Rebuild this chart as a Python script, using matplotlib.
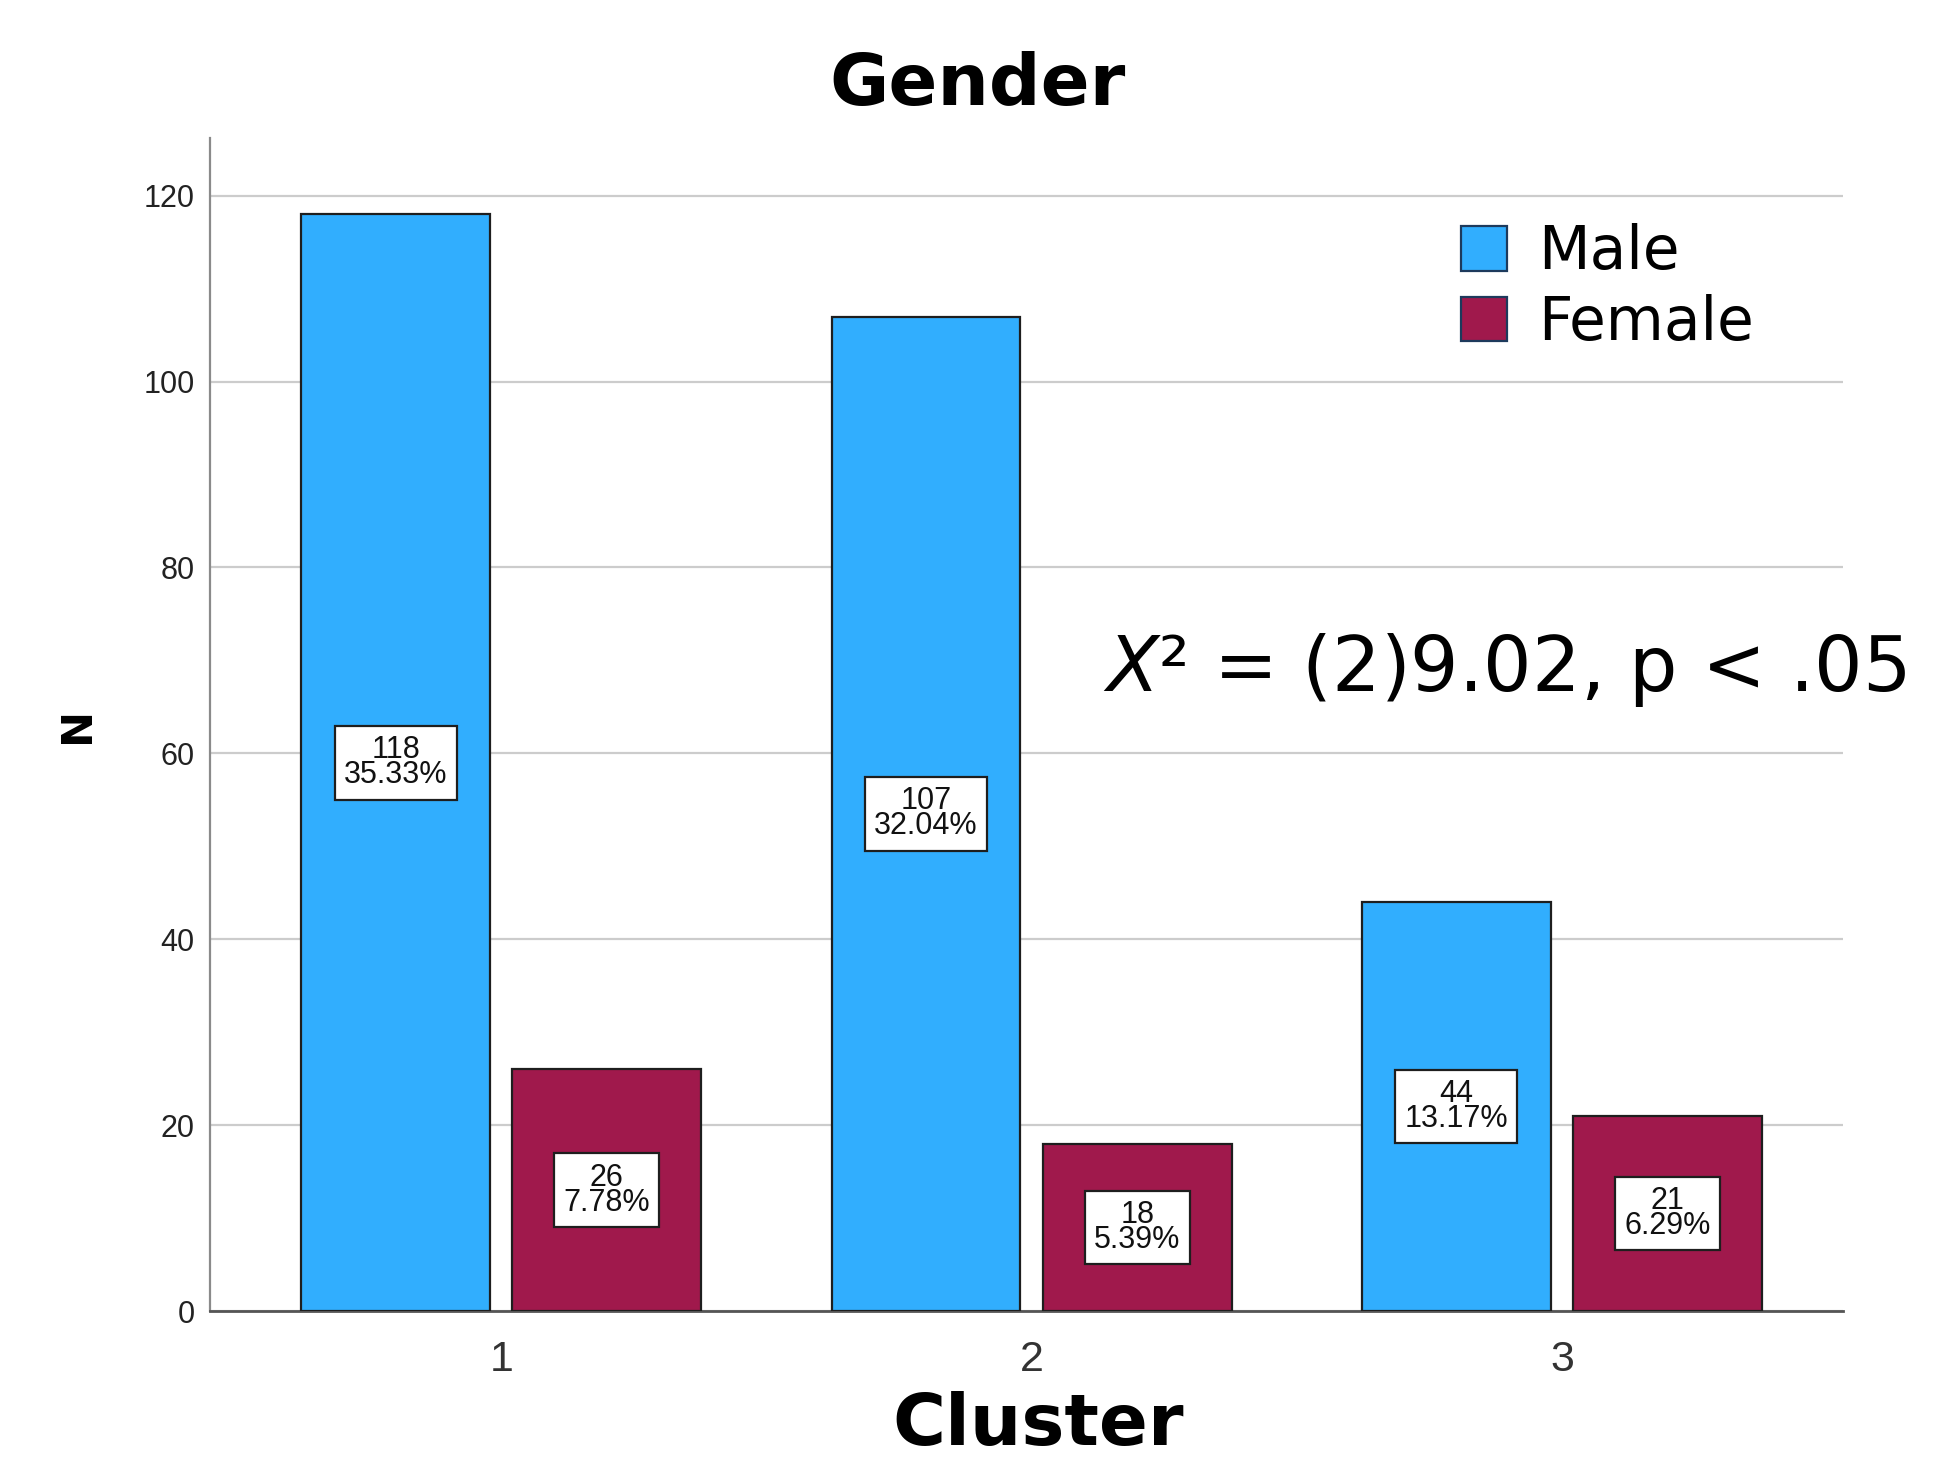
import numpy as np
import matplotlib
matplotlib.use("Agg")
import matplotlib.pyplot as plt
from matplotlib.patches import Patch

# Cluster x gender counts
clusters = ["1", "2", "3"]
male_n = [118, 107, 44]
female_n = [26, 18, 21]
series_names = ["Male", "Female"]
y_ticks = [0, 20, 40, 60, 80, 100, 120]

MALE_COLOR = "#31aefe"
FEMALE_COLOR = "#a0194c"
EDGE = "#1e1e1e"

total = sum(male_n) + sum(female_n)

fig = plt.figure(figsize=(19.36, 14.58), dpi=100)
ax = fig.add_axes([0.1085, 0.1008, 0.8435, 0.8045])

x = np.arange(1, len(clusters) + 1)
width = 0.356
offset = 0.199

bars_m = ax.bar(x - offset, male_n, width, color=MALE_COLOR,
                edgecolor=EDGE, linewidth=1.6, zorder=3)
bars_f = ax.bar(x + offset, female_n, width, color=FEMALE_COLOR,
                edgecolor=EDGE, linewidth=1.6, zorder=3)

# count / percent boxes at mid-height of each bar
for bars, vals in ((bars_m, male_n), (bars_f, female_n)):
    for b, v in zip(bars, vals):
        ax.text(b.get_x() + b.get_width() / 2, v / 2,
                "%d\n%.2f%%" % (v, 100.0 * v / total),
                ha="center", va="center", fontsize=22, linespacing=0.8,
                family="Liberation Sans", color="#111111", zorder=5,
                bbox=dict(boxstyle="square,pad=0.3", fc="white",
                          ec=EDGE, lw=1.6))

ax.set_xlim(0.451, 3.530)
ax.set_ylim(0, 126.2)
ax.set_xticks(x)
ax.set_xticklabels(clusters, family="Liberation Sans", fontsize=31,
                   color="#333333")
ax.set_yticks(y_ticks)
ax.set_yticklabels([str(t) for t in y_ticks], family="Liberation Sans",
                   fontsize=22, color="#222222")
ax.tick_params(axis="x", length=0, pad=21)
ax.tick_params(axis="y", length=0, pad=11)

ax.yaxis.grid(True, color="#cccccc", linewidth=1.6, zorder=0)
ax.set_axisbelow(True)
for s in ("top", "right"):
    ax.spines[s].set_visible(False)
ax.spines["left"].set_color("#8a8a8a")
ax.spines["left"].set_linewidth(1.6)
ax.spines["bottom"].set_color("#555555")
ax.spines["bottom"].set_linewidth(2.0)

# titles
fig.text(0.505, 0.928, "Gender", ha="center", va="baseline",
         fontsize=52, fontweight="bold", family="DejaVu Sans")
fig.text(0.536, 0.009, "Cluster", ha="center", va="baseline",
         fontsize=52, fontweight="bold", family="DejaVu Sans")
fig.text(0.0398, 0.503, "N", ha="center", va="center", rotation=90,
         fontsize=31, fontweight="bold", family="DejaVu Sans")

# chi-square note
plt.rcParams["mathtext.fontset"] = "dejavusans"
fig.text(0.5697, 0.526, r"$\mathit{X}$² = (2)9.02, p < .05",
         ha="left", va="baseline", fontsize=55, family="DejaVu Sans")

handles = [Patch(facecolor=MALE_COLOR, edgecolor="#1d3a5c", linewidth=1.6),
           Patch(facecolor=FEMALE_COLOR, edgecolor="#1d3a5c", linewidth=1.6)]
fig.legend(handles, series_names, loc="upper left",
           bbox_to_anchor=(0.7547, 0.847), frameon=False,
           fontsize=43, handlelength=0.77, handleheight=0.77,
           handletextpad=0.52, labelspacing=0.2, borderpad=0,
           borderaxespad=0)

fig.savefig("out.png", dpi=100, facecolor="white")
